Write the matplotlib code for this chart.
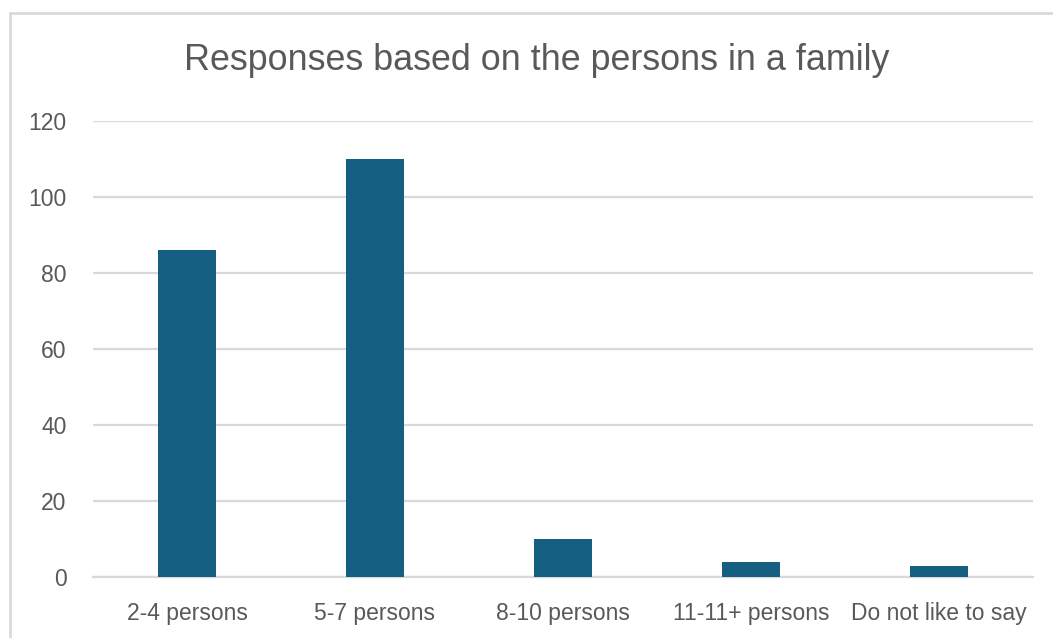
import matplotlib
matplotlib.use("Agg")
import matplotlib.pyplot as plt
from matplotlib.patches import Rectangle

# family size groups and number of responses
categories = ["2-4 persons", "5-7 persons", "8-10 persons", "11-11+ persons", "Do not like to say"]
responses = [86, 110, 10, 4, 3]
y_ticks = [0, 20, 40, 60, 80, 100, 120]

BAR_COLOR = "#156082"
TEXT_COLOR = "#595959"
GRID_COLOR = "#D9D9D9"

plt.rcParams["font.family"] = ["Liberation Sans", "DejaVu Sans"]

fig = plt.figure(figsize=(10.53, 6.38), dpi=100)
ax = fig.add_axes([93 / 1053, 61 / 638, 940 / 1053, 456 / 638])

x = list(range(len(categories)))
ax.bar(x, responses, width=0.31, color=BAR_COLOR, zorder=3)

ax.set_xlim(-0.5, len(categories) - 0.5)
ax.set_ylim(0, 120)
ax.set_yticks(y_ticks)
ax.set_xticks(x)
ax.set_xticklabels(categories)

ax.grid(axis="y", color=GRID_COLOR, linewidth=1.6, zorder=0)
ax.set_axisbelow(True)
for side in ["top", "right", "left"]:
    ax.spines[side].set_visible(False)
ax.spines["bottom"].set_color(GRID_COLOR)
ax.spines["bottom"].set_linewidth(1.6)

ax.tick_params(axis="both", length=0, labelsize=16.5, labelcolor=TEXT_COLOR)
ax.tick_params(axis="y", pad=19)
ax.tick_params(axis="x", pad=18)

fig.text(537 / 1053, 1 - 61 / 638, "Responses based on the persons in a family",
         ha="center", va="center", fontsize=25.8, color=TEXT_COLOR)

# light chart border (continues past the right and bottom edges)
fig.patches.append(Rectangle((10 / 1053, -0.1), 1.2, 1 - 13 / 638 + 0.1,
                             transform=fig.transFigure, fill=False,
                             edgecolor=GRID_COLOR, linewidth=2))

fig.savefig("out.png", dpi=100, facecolor="white")
